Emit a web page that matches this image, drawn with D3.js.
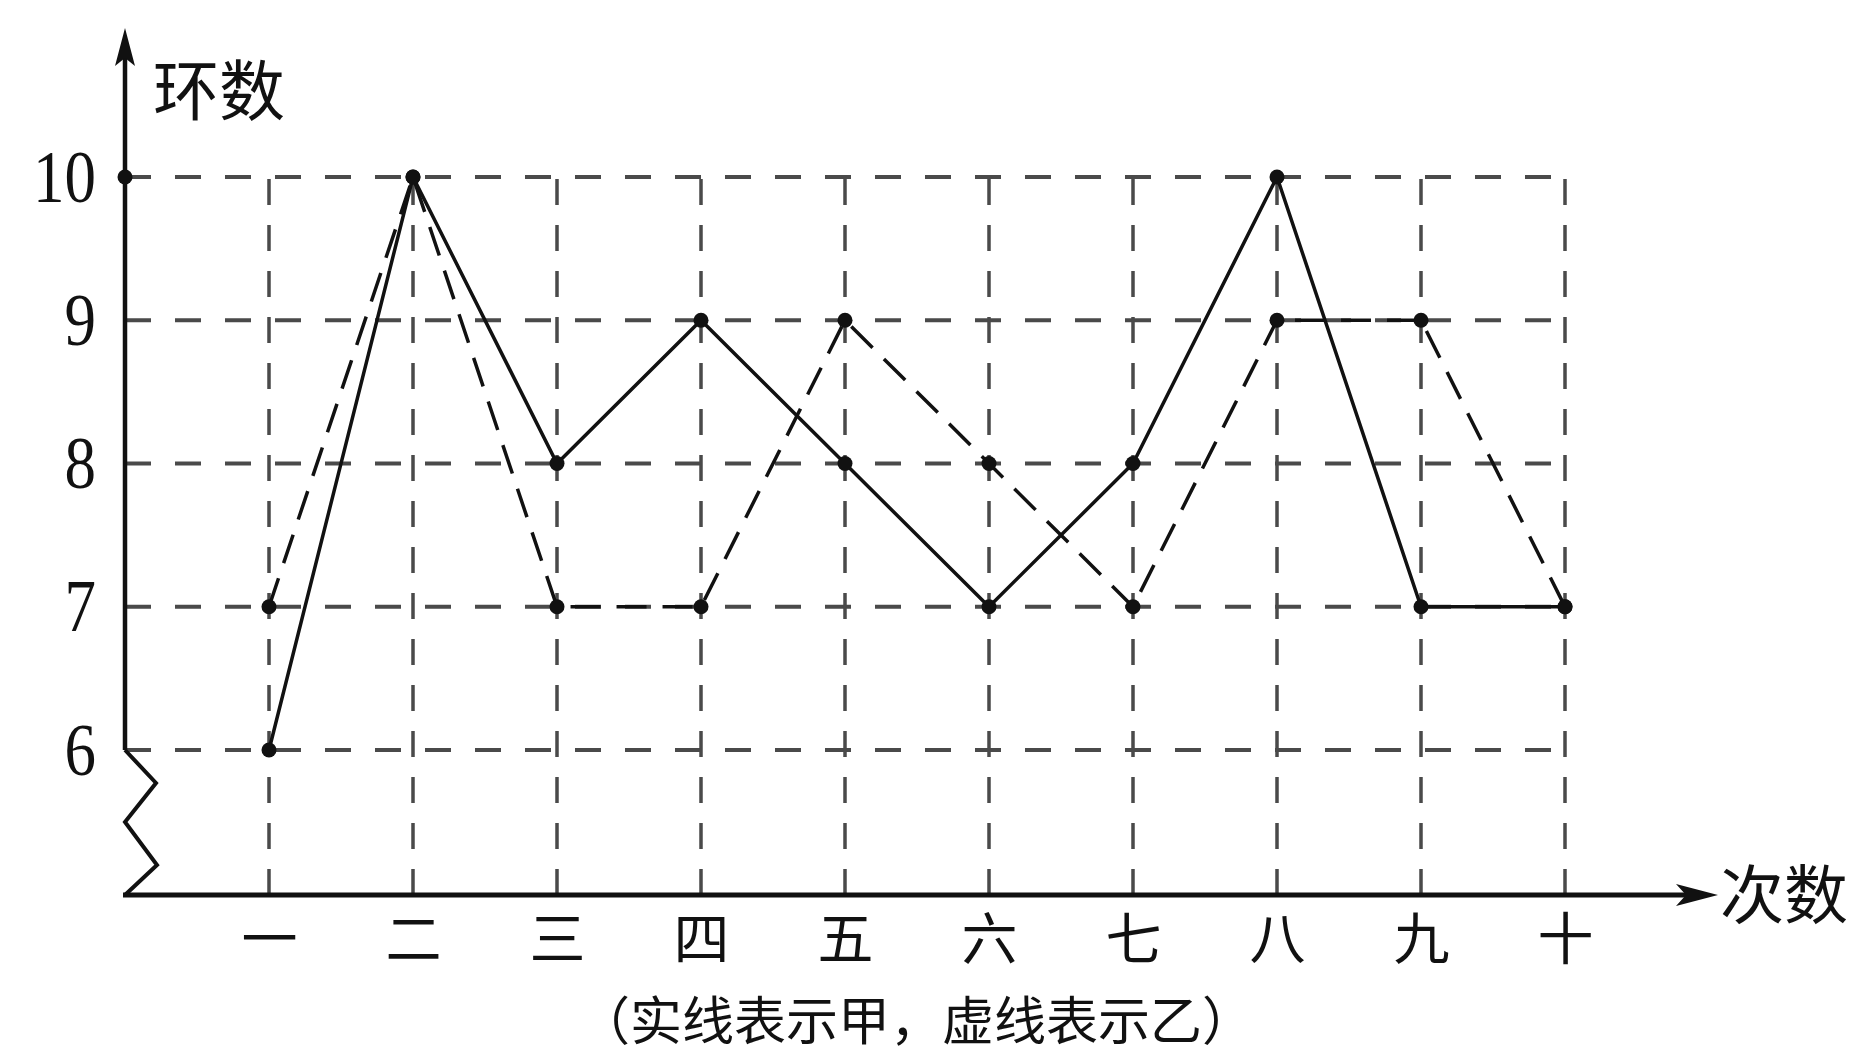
<!DOCTYPE html>
<html>
<head>
<meta charset="utf-8">
<script src="https://cdn.jsdelivr.net/npm/d3@7"></script>
<style>
  html, body { margin: 0; padding: 0; background: #fff; overflow: hidden; }
  .digit text { font-family: "Liberation Serif", "DejaVu Serif", serif; font-size: 70px; fill: #111; }
  .cat text { font-family: "Noto Sans CJK SC", sans-serif; font-size: 56px; fill: #111; }
  .cjk { font-family: "Noto Sans CJK SC", sans-serif; fill: #111; }
</style>
</head>
<body>
<div id="chart"></div>
<script>
// data
var categories = ["一", "二", "三", "四", "五", "六", "七", "八", "九", "十"];
var seriesJia = [6, 10, 8, 9, 8, 7, 8, 10, 7, 7];   // solid line
var seriesYi  = [7, 10, 7, 7, 9, 8, 7, 9, 9, 7];    // dashed line
var yTicks = [6, 7, 8, 9, 10];

var WIDTH = 1866, HEIGHT = 1057;
var AXISX = 125, AXISY = 895;

var svg = d3.select("#chart").append("svg")
    .attr("width", WIDTH)
    .attr("height", HEIGHT);

var x = d3.scaleLinear().domain([0, 10]).range([AXISX, 1565]);
var y = d3.scaleLinear().domain([6, 10]).range([750, 177]);

// grid: horizontal lines at every tick value
svg.append("g").attr("class", "hgrid")
    .selectAll("line").data(yTicks).enter().append("line")
    .attr("x1", AXISX).attr("x2", x(10))
    .attr("y1", function(d){ return y(d); })
    .attr("y2", function(d){ return y(d); })
    .attr("stroke", "#4a4a4a").attr("stroke-width", 4)
    .attr("stroke-dasharray", "26,24");

// grid: vertical lines at each attempt
svg.append("g").attr("class", "vgrid")
    .selectAll("line").data(categories).enter().append("line")
    .attr("x1", function(d, i){ return x(i + 1); })
    .attr("x2", function(d, i){ return x(i + 1); })
    .attr("y1", AXISY).attr("y2", y(10))
    .attr("stroke", "#4a4a4a").attr("stroke-width", 3.5)
    .attr("stroke-dasharray", "26,20");

// y axis with break (zigzag) below 6
var zig = [[AXISX, y(6)], [AXISX + 31, y(6) + 33], [AXISX, y(6) + 72],
           [AXISX + 32, y(6) + 115], [AXISX, AXISY]];
svg.append("line")
    .attr("x1", AXISX).attr("x2", AXISX)
    .attr("y1", y(6)).attr("y2", 58)
    .attr("stroke", "#111").attr("stroke-width", 4.5);
svg.append("path")
    .attr("d", d3.line()(zig))
    .attr("fill", "none").attr("stroke", "#111").attr("stroke-width", 4);
svg.append("path")
    .attr("d", "M" + AXISX + ",28 L" + (AXISX - 10) + ",66 L" + AXISX + ",58 L" + (AXISX + 10) + ",66 Z")
    .attr("fill", "#111");

// x axis with arrow
svg.append("line")
    .attr("x1", AXISX - 2).attr("x2", 1690)
    .attr("y1", AXISY).attr("y2", AXISY)
    .attr("stroke", "#111").attr("stroke-width", 5);
svg.append("path")
    .attr("d", "M1718," + AXISY + " L1676," + (AXISY - 11) + " L1686," + AXISY + " L1676," + (AXISY + 11) + " Z")
    .attr("fill", "#111");

// y tick labels
var yAxis = d3.axisLeft(y).tickValues(yTicks).tickFormat(d3.format("d"))
    .tickSize(0).tickPadding(0);
var gy = svg.append("g").attr("class", "digit")
    .attr("transform", "translate(" + (AXISX - 29) + ",0)")
    .call(yAxis);
gy.select(".domain").remove();
gy.selectAll("text").attr("dy", null).attr("y", 23).attr("x", 0);
gy.selectAll(".tick").each(function(){
    var t = d3.select(this);
    var ty = +t.attr("transform").match(/,([\d.]+)/)[1];
    t.attr("transform", "translate(0," + ty + ") scale(0.9,1.05)");
});

// x tick labels
var xAxis = d3.axisBottom(x)
    .tickValues(d3.range(1, 11))
    .tickFormat(function(i){ return categories[i - 1]; })
    .tickSize(0).tickPadding(0);
var gx = svg.append("g").attr("class", "cat")
    .attr("transform", "translate(0," + AXISY + ")")
    .call(xAxis);
gx.select(".domain").remove();
gx.selectAll("text").attr("dy", null).attr("y", 39)
    .attr("dominant-baseline", "central");

// series lines
var line = d3.line()
    .x(function(d, i){ return x(i + 1); })
    .y(function(d){ return y(d); });

svg.append("path")
    .datum(seriesYi)
    .attr("d", line)
    .attr("fill", "none").attr("stroke", "#111").attr("stroke-width", 3.5)
    .attr("stroke-dasharray", "30,16");

svg.append("path")
    .datum(seriesJia)
    .attr("d", line)
    .attr("fill", "none").attr("stroke", "#111").attr("stroke-width", 3.5);

// points
function drawPoints(data){
    svg.append("g").selectAll("circle").data(data).enter().append("circle")
        .attr("cx", function(d, i){ return x(i + 1); })
        .attr("cy", function(d){ return y(d); })
        .attr("r", 7.5).attr("fill", "#111");
}
drawPoints(seriesYi);
drawPoints(seriesJia);
svg.append("circle").attr("cx", AXISX).attr("cy", y(10)).attr("r", 7.5).attr("fill", "#111");

// axis titles and caption
svg.append("text").attr("class", "cjk")
    .attr("x", 153).attr("y", 86)
    .attr("dominant-baseline", "central")
    .style("font-size", "66px")
    .text("环数");
svg.append("text").attr("class", "cjk")
    .attr("x", 1720).attr("y", 890)
    .attr("dominant-baseline", "central")
    .style("font-size", "64px")
    .text("次数");
svg.append("text").attr("class", "cjk")
    .attr("x", 916).attr("y", 1017)
    .attr("text-anchor", "middle")
    .attr("dominant-baseline", "central")
    .style("font-size", "52px")
    .text("（实线表示甲，虚线表示乙）");
</script>
</body>
</html>
